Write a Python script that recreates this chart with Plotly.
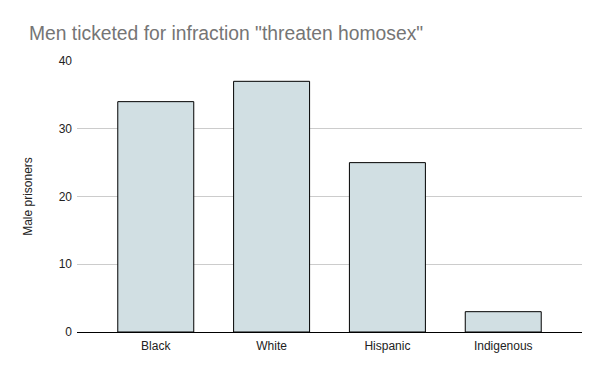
import plotly.graph_objects as go

categories = ["Black", "White", "Hispanic", "Indigenous"]
values = [34, 37, 25, 3]
y_ticks = [0, 10, 20, 30, 40]

fig = go.Figure(go.Bar(
    x=categories, y=values,
    marker=dict(color="#d1dfe3", line=dict(color="#000000", width=1)),
    hoverinfo="skip",
))

fig.update_layout(
    width=600, height=371,
    margin=dict(l=77, r=18, t=61, b=39),
    paper_bgcolor="white", plot_bgcolor="white",
    font=dict(family="Liberation Sans, Arial, sans-serif", color="#222222", size=12),
    title=dict(text='Men ticketed for infraction "threaten homosex"',
               font=dict(size=19.3, color="#757575"),
               x=29/600, xref="container", xanchor="left",
               y=1-33/371, yref="container", yanchor="middle"),
    bargap=0.344,
    showlegend=False,
)
fig.update_xaxes(range=[-0.68, 3.68], showgrid=False, showline=False, automargin=False,
                 tickfont=dict(size=12, color="#222222"), ticks="", ticklabelstandoff=5)
fig.update_yaxes(range=[0, 40], tickvals=y_ticks, showgrid=True, gridcolor="#cccccc",
                 gridwidth=1, zeroline=True, zerolinecolor="#000000", zerolinewidth=1,
                 automargin=False,
                 tickfont=dict(size=12, color="#222222"), ticklabelstandoff=4,
                 title=dict(text="Male prisoners", font=dict(size=12, color="#222222"), standoff=23))

fig.write_html("out.html", config={"displayModeBar": False},
               post_script="document.body.style.margin='0';document.body.style.overflow='hidden';")
